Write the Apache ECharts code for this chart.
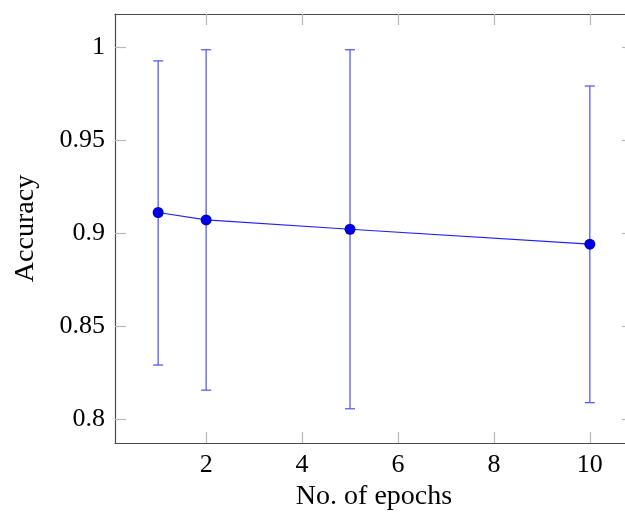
<!DOCTYPE html>
<html>
<head>
<meta charset="utf-8">
<script src="https://cdn.jsdelivr.net/npm/echarts@6/dist/echarts.min.js"></script>
<style>html,body{margin:0;padding:0;background:#fff}#c{width:625px;height:515px}</style>
</head>
<body>
<div id="c"></div>
<script>
const epochs = [1, 2, 5, 10];
const accuracy = [0.911, 0.907, 0.902, 0.894];
const lower = [0.829, 0.8155, 0.8055, 0.8088];
const upper = [0.9925, 0.9985, 0.9985, 0.979];
const xTicks = [2, 4, 6, 8, 10];
const yTicks = [0.8, 0.85, 0.9, 0.95, 1];

const font = 'Liberation Serif';
const chart = echarts.init(document.getElementById('c'), null, {renderer: 'canvas'});

const axisLineStyle = {show: true, lineStyle: {color: '#4a4a4a', width: 1.2}};
const tickStyle = {show: true, inside: true, length: 11, lineStyle: {color: '#b8b8b8', width: 1.2}};

const xCommon = {
  type: 'value', min: 0.1, max: 10.9,
  axisLine: axisLineStyle, splitLine: {show: false}
};
const yCommon = {
  type: 'value', min: 0.7871, max: 1.0177,
  axisLine: axisLineStyle, splitLine: {show: false}
};

chart.setOption({
  animation: false,
  grid: {left: 115, top: 14, width: 518, height: 429, containLabel: false, outerBoundsMode: 'none'},
  xAxis: [
    Object.assign({}, xCommon, {
      position: 'bottom',
      name: 'No. of epochs', nameLocation: 'middle', nameGap: 39,
      nameTextStyle: {fontFamily: font, fontSize: 28, color: '#000'},
      axisTick: Object.assign({customValues: xTicks}, tickStyle),
      axisLabel: {customValues: xTicks, fontFamily: font, fontSize: 26, color: '#000', margin: 9}
    }),
    Object.assign({}, xCommon, {
      position: 'top',
      axisTick: Object.assign({customValues: xTicks}, tickStyle),
      axisLabel: {show: false}
    })
  ],
  yAxis: [
    Object.assign({}, yCommon, {
      position: 'left',
      name: 'Accuracy', nameLocation: 'middle', nameGap: 75, nameRotate: 90,
      nameTextStyle: {fontFamily: font, fontSize: 28, color: '#000'},
      axisTick: Object.assign({customValues: yTicks}, tickStyle),
      axisLabel: {customValues: yTicks, fontFamily: font, fontSize: 26, color: '#000', margin: 10,
        formatter: v => String(+v.toFixed(2))}
    }),
    Object.assign({}, yCommon, {
      position: 'right',
      axisLine: {show: false},
      axisTick: Object.assign({customValues: yTicks}, tickStyle),
      axisLabel: {show: false}
    })
  ],
  series: [
    {
      type: 'custom',
      xAxisIndex: 0, yAxisIndex: 0,
      data: epochs.map((e, i) => [e, lower[i], upper[i]]),
      renderItem: function (params, api) {
        const x = api.value(0);
        const lo = api.coord([x, api.value(1)]);
        const hi = api.coord([x, api.value(2)]);
        const cap = 5;
        const style = {stroke: '#5a5aff', lineWidth: 1.3, fill: null};
        return {
          type: 'group',
          children: [
            {type: 'line', shape: {x1: lo[0], y1: lo[1], x2: hi[0], y2: hi[1]}, style: style},
            {type: 'line', shape: {x1: lo[0] - cap, y1: lo[1], x2: lo[0] + cap, y2: lo[1]}, style: style},
            {type: 'line', shape: {x1: hi[0] - cap, y1: hi[1], x2: hi[0] + cap, y2: hi[1]}, style: style}
          ]
        };
      },
      z: 2
    },
    {
      type: 'line',
      xAxisIndex: 0, yAxisIndex: 0,
      data: epochs.map((e, i) => [e, accuracy[i]]),
      symbol: 'circle', symbolSize: 11,
      lineStyle: {color: '#2020ff', width: 1.2},
      itemStyle: {color: '#0000dd'},
      z: 3
    }
  ]
});
</script>
</body>
</html>
